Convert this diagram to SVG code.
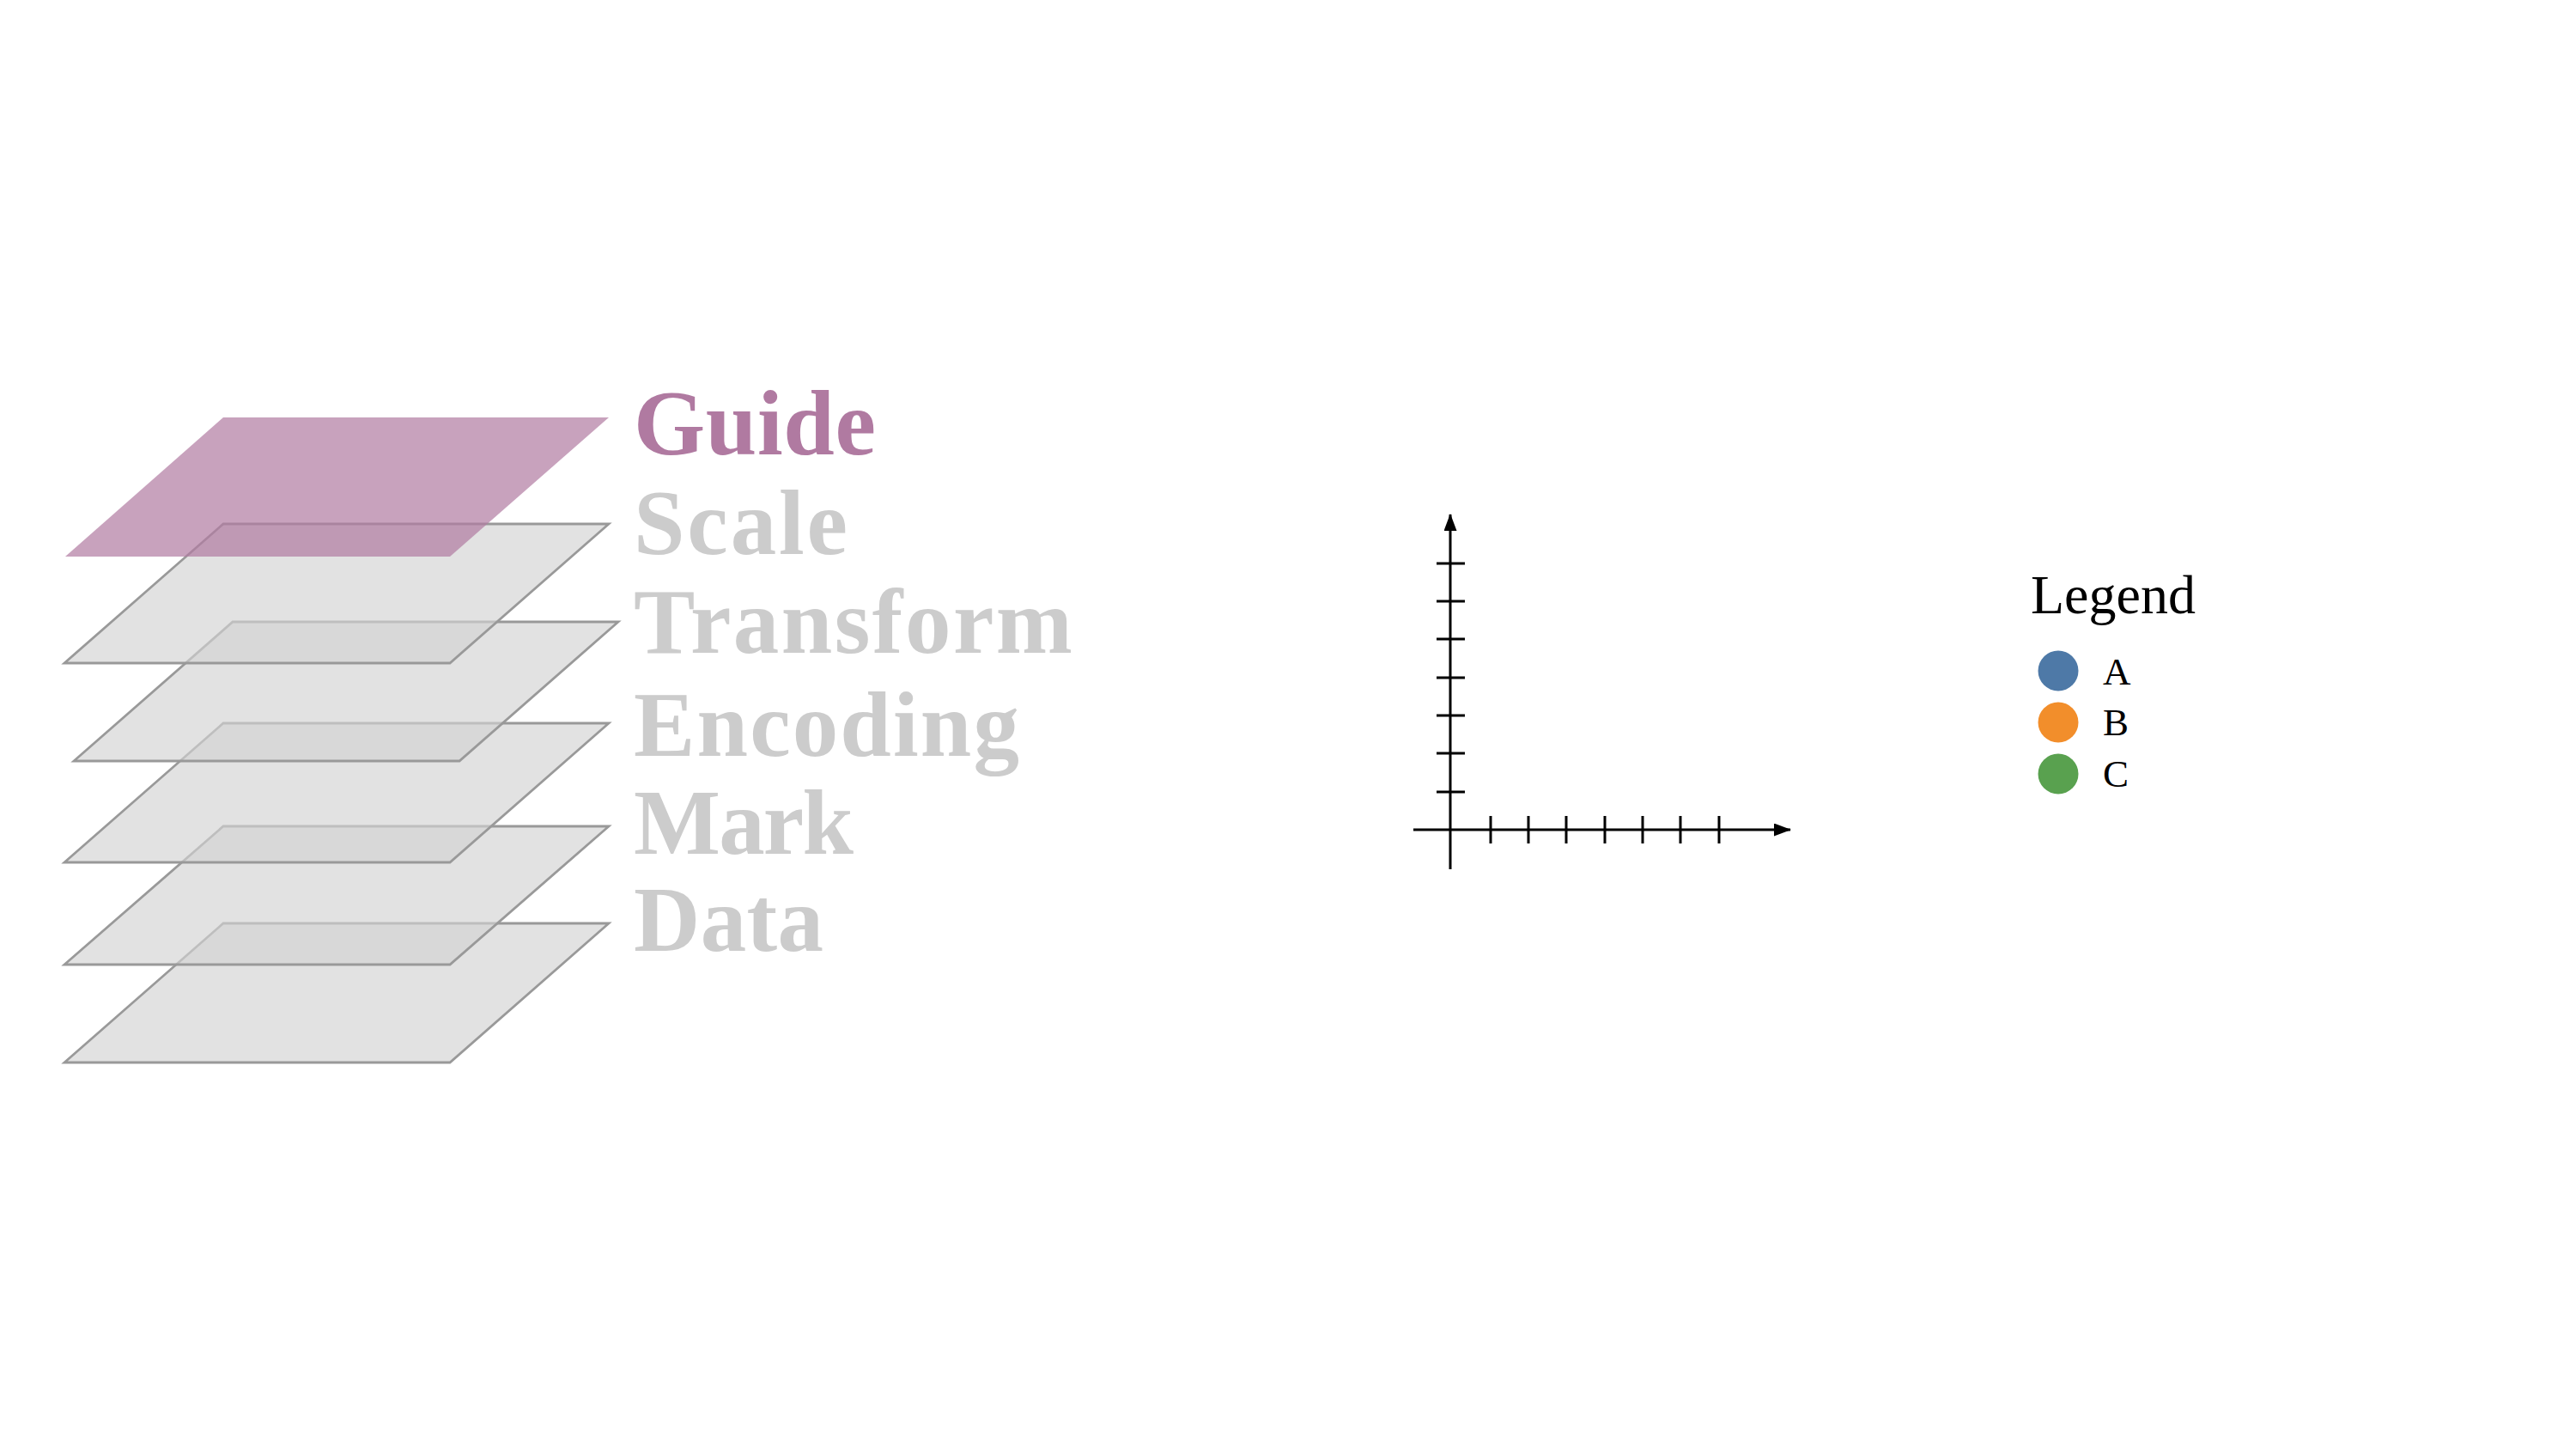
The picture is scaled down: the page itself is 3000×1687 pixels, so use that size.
<svg xmlns="http://www.w3.org/2000/svg" width="3000" height="1687" viewBox="0 0 3000 1687">
  <style>
    .plane { fill: #d3d3d3; fill-opacity: 0.65; stroke: #999999; stroke-width: 2.8; stroke-linejoin: miter; }
    .guide-plane { fill: #b07aa1; fill-opacity: 0.7; stroke: none; }
    .label { font-family: "Liberation Serif", "Times New Roman", serif; font-weight: bold; font-size: 107px; fill: #cccccc; }
    .label-active { fill: #b07aa1; }
    .axis { stroke: #000000; stroke-width: 3; fill: none; }
    .tick { stroke: #000000; stroke-width: 3; }
    .legend-title { font-family: "Liberation Serif", "Times New Roman", serif; font-size: 64px; fill: #000000; }
    .legend-label { font-family: "Liberation Serif", "Times New Roman", serif; font-size: 45px; fill: #000000; }
  </style>
  <defs>
    <marker id="arrow" markerUnits="userSpaceOnUse" markerWidth="20" markerHeight="16" refX="19" refY="7.5" orient="auto">
      <path d="M0,0 L20,7.5 L0,15 Z" fill="#000000"/>
    </marker>
  </defs>
  <rect x="0" y="0" width="3000" height="1687" fill="#ffffff"/>

  <g id="layer-data">
    <polygon class="plane" points="260,1075 709,1075 524,1237 75,1237"/>
    <text class="label" x="738" y="1107" textLength="221" lengthAdjust="spacing">Data</text>
  </g>
  <g id="layer-mark">
    <polygon class="plane" points="260,962 709,962 524,1123 75,1123"/>
    <text class="label" x="738" y="994" textLength="256" lengthAdjust="spacing">Mark</text>
  </g>
  <g id="layer-encoding">
    <polygon class="plane" points="260,842 709,842 524,1004 75,1004"/>
    <text class="label" x="738" y="880" textLength="449" lengthAdjust="spacing">Encoding</text>
  </g>
  <g id="layer-transform">
    <polygon class="plane" points="271,724 720,724 535,886 86,886"/>
    <text class="label" x="738" y="760" textLength="511" lengthAdjust="spacing">Transform</text>
  </g>
  <g id="layer-scale">
    <polygon class="plane" points="260,610 709,610 524,772 75,772"/>
    <text class="label" x="738" y="645" textLength="249" lengthAdjust="spacing">Scale</text>
  </g>
  <g id="layer-guide">
    <polygon class="guide-plane" points="260,486 709,486 524,648 76,648"/>
    <text class="label label-active" x="738" y="529" textLength="282" lengthAdjust="spacing">Guide</text>
  </g>

  <g id="connectors">
    <line class="axis" x1="1689" y1="1012" x2="1689" y2="599" marker-end="url(#arrow)"/>
    <line class="axis" x1="1646" y1="966" x2="2085" y2="966" marker-end="url(#arrow)"/>
  </g>

  <g id="axes-ticks">
    <line class="tick" x1="1673" y1="656" x2="1706" y2="656"/>
    <line class="tick" x1="1673" y1="700" x2="1706" y2="700"/>
    <line class="tick" x1="1673" y1="744" x2="1706" y2="744"/>
    <line class="tick" x1="1673" y1="789" x2="1706" y2="789"/>
    <line class="tick" x1="1673" y1="833" x2="1706" y2="833"/>
    <line class="tick" x1="1673" y1="877" x2="1706" y2="877"/>
    <line class="tick" x1="1673" y1="922" x2="1706" y2="922"/>
    <line class="tick" x1="1736" y1="950" x2="1736" y2="982"/>
    <line class="tick" x1="1780" y1="950" x2="1780" y2="982"/>
    <line class="tick" x1="1824" y1="950" x2="1824" y2="982"/>
    <line class="tick" x1="1869" y1="950" x2="1869" y2="982"/>
    <line class="tick" x1="1913" y1="950" x2="1913" y2="982"/>
    <line class="tick" x1="1957" y1="950" x2="1957" y2="982"/>
    <line class="tick" x1="2002" y1="950" x2="2002" y2="982"/>
  </g>

  <g id="legend">
    <text class="legend-title" x="2365" y="714">Legend</text>
    <circle cx="2397" cy="781" r="23.5" fill="#4e79a7"/>
    <text class="legend-label" x="2449" y="797">A</text>
    <circle cx="2397" cy="841" r="23.5" fill="#f28e2b"/>
    <text class="legend-label" x="2449" y="856">B</text>
    <circle cx="2397" cy="901" r="23.5" fill="#59a14f"/>
    <text class="legend-label" x="2449" y="916">C</text>
  </g>
</svg>
